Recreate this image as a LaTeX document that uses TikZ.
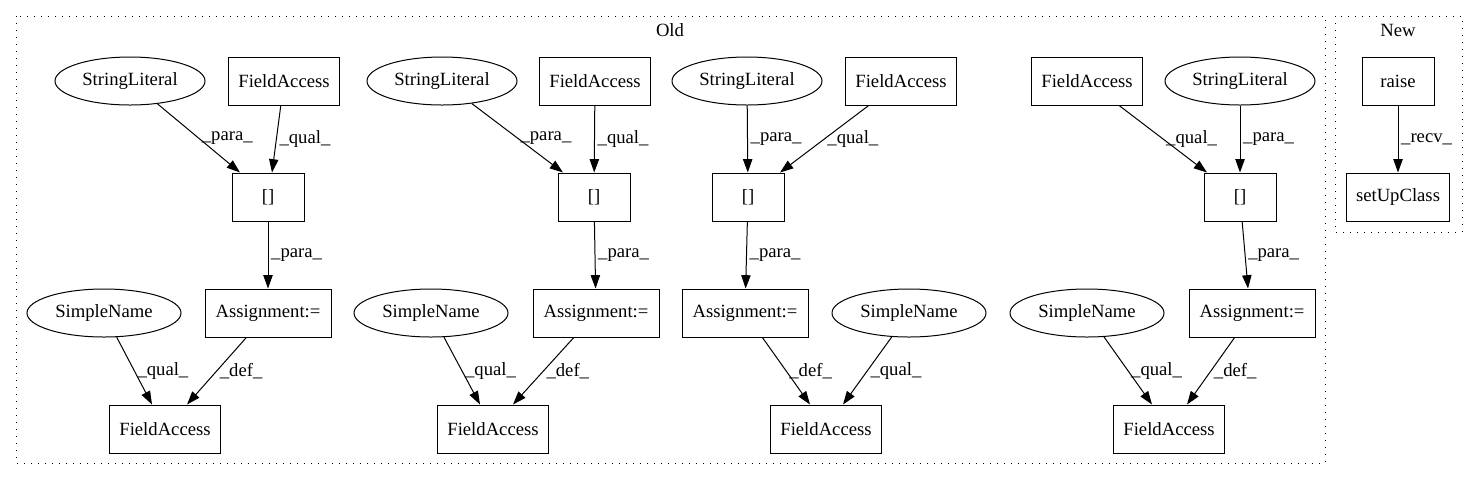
\documentclass[tikz,border=0pt]{standalone}
\usepackage{fontspec}
\setmainfont{Liberation Serif}
\usetikzlibrary{shapes.geometric,arrows.meta}
\begin{document}
\begin{tikzpicture}
	[x=0.75pt, y=-0.75pt, line width=0.75pt,
	every node/.style={font=\fontsize{14pt}{16pt}\selectfont, inner sep=0pt},
	boxnode/.style={draw,rectangle,minimum height=36pt,minimum width=83.25pt},
	ovalnode/.style={draw,ellipse,minimum height=36pt,minimum width=112.5pt},
	edgelbl/.style={midway,right,inner sep=2pt},
	cluster/.style={draw,dash pattern=on 0.75pt off 4.5pt},
	>={Triangle[length=10pt,width=7pt]}]
	\useasboundingbox (0,0) rectangle (1477,480);
	\draw [cluster] (16,16) rectangle (1325,463);
	\draw [cluster] (1335,16) rectangle (1462,232);
	\node (old) at (670,30) {Old};
	\node (new) at (1398,30) {New};
	\node (sl1) [ovalnode] at (130,81) {StringLiteral};
	\node (fa1) [boxnode] at (284,81) {FieldAccess};
	\node (br1) [boxnode,minimum width=54pt] at (268,197) {[]};
	\node (as1) [boxnode,minimum width=94.5pt] at (268,313) {Assignment:=};
	\node (sn1) [ovalnode,minimum width=115.5pt] at (104,313) {SimpleName};
	\node (fb1) [boxnode] at (165,429) {FieldAccess};
	\node (sl2) [ovalnode] at (442,81) {StringLiteral};
	\node (fa2) [boxnode] at (595,81) {FieldAccess};
	\node (br2) [boxnode,minimum width=54pt] at (594,197) {[]};
	\node (as2) [boxnode,minimum width=94.5pt] at (596,313) {Assignment:=};
	\node (sn2) [ovalnode,minimum width=115.5pt] at (431,313) {SimpleName};
	\node (fb2) [boxnode] at (493,429) {FieldAccess};
	\node (sl3) [ovalnode] at (747,81) {StringLiteral};
	\node (fa3) [boxnode] at (901,81) {FieldAccess};
	\node (br3) [boxnode,minimum width=54pt] at (748,197) {[]};
	\node (as3) [boxnode,minimum width=94.5pt] at (745,313) {Assignment:=};
	\node (sn3) [ovalnode,minimum width=115.5pt] at (909,313) {SimpleName};
	\node (fb3) [boxnode] at (826,429) {FieldAccess};
	\node (fa4) [boxnode] at (1087,81) {FieldAccess};
	\node (sl4) [ovalnode] at (1240,81) {StringLiteral};
	\node (br4) [boxnode,minimum width=54pt] at (1240,197) {[]};
	\node (as4) [boxnode,minimum width=94.5pt] at (1252,313) {Assignment:=};
	\node (sn4) [ovalnode,minimum width=115.5pt] at (1087,313) {SimpleName};
	\node (fb4) [boxnode] at (1169,429) {FieldAccess};
	\node (raise) [boxnode,minimum width=54pt] at (1398,81) {raise};
	\node (setup) [boxnode,minimum width=77.25pt] at (1398,197) {setUpClass};
	\draw [->] (sl1) -- node [edgelbl] {\_para\_} ([xshift=-21pt]br1.north);
	\draw [->] (fa1) -- node [edgelbl] {\_qual\_} ([xshift=3pt]br1.north);
	\draw [->] (br1) -- node [edgelbl] {\_para\_} (as1);
	\draw [->] (sn1) -- node [edgelbl] {\_qual\_} ([xshift=-9.75pt]fb1.north);
	\draw [->] (as1) -- node [edgelbl] {\_def\_} ([xshift=16.5pt]fb1.north);
	\draw [->] (sl2) -- node [edgelbl] {\_para\_} ([xshift=-23.25pt]br2.north);
	\draw [->] (fa2) -- node [edgelbl] {\_qual\_} (br2);
	\draw [->] (br2) -- node [edgelbl] {\_para\_} (as2);
	\draw [->] (sn2) -- node [edgelbl] {\_qual\_} ([xshift=-9.75pt]fb2.north);
	\draw [->] (as2) -- node [edgelbl] {\_def\_} ([xshift=15pt]fb2.north);
	\draw [->] (sl3) -- node [edgelbl] {\_para\_} (br3);
	\draw [->] (fa3) -- node [edgelbl] {\_qual\_} ([xshift=24pt]br3.north);
	\draw [->] (br3) -- node [edgelbl] {\_para\_} (as3);
	\draw [->] (as3) -- node [edgelbl] {\_def\_} ([xshift=-12pt]fb3.north);
	\draw [->] (sn3) -- node [edgelbl] {\_qual\_} ([xshift=12.75pt]fb3.north);
	\draw [->] (fa4) -- node [edgelbl] {\_qual\_} ([xshift=-24.75pt]br4.north);
	\draw [->] (sl4) -- node [edgelbl] {\_para\_} (br4);
	\draw [->] (br4) -- node [edgelbl] {\_para\_} ([xshift=-3pt]as4.north);
	\draw [->] (sn4) -- node [edgelbl] {\_qual\_} ([xshift=-12.75pt]fb4.north);
	\draw [->] (as4) -- node [edgelbl] {\_def\_} ([xshift=13.5pt]fb4.north);
	\draw [->] (raise) -- node [edgelbl] {\_recv\_} (setup);
\end{tikzpicture}
\end{document}
